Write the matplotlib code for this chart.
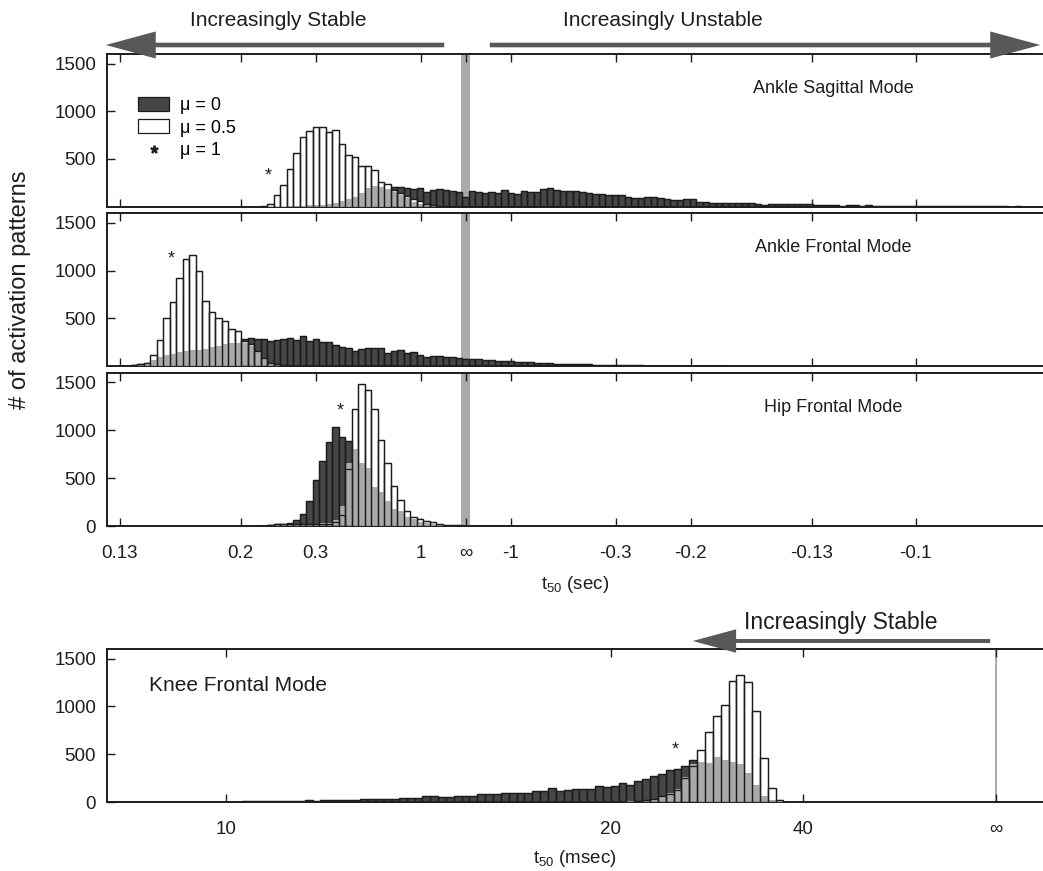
import numpy as np
import matplotlib
matplotlib.use('Agg')
import matplotlib.pyplot as plt
from matplotlib.patches import Patch, FancyArrowPatch
from matplotlib.lines import Line2D

plt.rcParams['font.family'] = ['Liberation Sans', 'DejaVu Sans']
plt.rcParams['mathtext.fontset'] = 'custom'
plt.rcParams['mathtext.rm'] = 'Liberation Sans'
plt.rcParams['mathtext.it'] = 'Liberation Sans:italic'

# ---- top three panels: x is the rate -1/t50 (1/s), bin j starts at U0 + j*BW
U0, BW = -4.409, 0.1444
top_ticks = [0.13, 0.2, 0.3, 1, np.inf, -1, -0.3, -0.2, -0.13, -0.1]
top_labels = ['0.13', '0.2', '0.3', '1', '∞', '-1', '-0.3', '-0.2', '-0.13', '-0.1']

# Ankle Sagittal Mode
sag_mu0_start = 4
sag_mu0 = [3, 5, 10, 15, 25, 35, 50, 65, 85, 105, 125, 150, 170, 185, 195,
           202, 202, 195, 184, 198, 157, 171, 184, 177, 160, 153, 104, 160, 157, 146,
           150, 146, 178, 139, 129, 167, 153, 153, 184, 195,
           174, 164, 160, 160, 157, 139, 132, 132, 125, 122, 118, 104, 90, 90, 101,
           97, 90, 83, 70, 70, 77, 77, 52, 49, 35, 42, 42, 42, 38, 35,
           35, 28, 21, 24, 28, 24, 24, 28, 24, 28, 17, 14, 14, 14, 10,
           14, 14, 10, 14, 10, 10, 10, 7, 10, 7, 7, 7, 7, 10, 7,
           7, 3, 7, 7, 3, 3, 3, 3, 3, 3, 0, 3]
sag_mu05_start = -1
sag_mu05 = [5, 24, 122, 223, 400, 567, 731, 793, 832, 832, 783, 800, 658, 546, 522,
            431, 428, 383, 261, 240, 170, 140, 110, 80, 55, 30, 15, 8, 4, 2]
sag_mu1_start = 3
sag_mu1 = [5, 10, 12, 15, 18, 22, 30, 40, 60, 85, 105, 146, 195, 215, 210,
           190, 157, 122, 87, 52, 30, 17, 10, 5]

# Ankle Frontal Mode
afr_mu0_start = -23
afr_mu0 = [3, 5, 10, 20, 35, 50, 70, 90, 110, 130, 150, 170, 190, 210, 225,
           240, 255, 265, 272,
           278, 289, 285, 278, 258, 275, 285, 296, 268, 317, 258, 278, 250, 250, 223,
           195, 191, 157, 174, 184, 184, 184, 139, 160, 167, 132, 146, 115, 97, 108,
           100, 97, 90, 80, 75, 70, 70, 68, 65, 56, 52, 48, 45, 42, 38,
           35, 30, 28, 25, 22, 21, 20, 18, 16, 14, 12, 11, 10, 9, 8,
           7, 6, 5, 5, 4, 3, 3, 2, 2, 2, 1, 1, 1, 1, 1]
afr_mu05_start = -23
afr_mu05 = [2, 4, 7, 17, 35, 115, 268, 498, 672, 926, 1124, 1166, 995, 686, 571,
            505, 470, 390, 369, 260, 226, 157, 80, 35, 17, 7, 3]
afr_mu1_start = -21
afr_mu1 = [5, 10, 28, 63, 90, 115, 125, 143, 160, 167, 167, 177, 195, 212, 230,
           237, 237, 237, 209, 150, 77, 35, 14, 7, 3]

# Hip Frontal Mode
hip_mu0_start = -2
hip_mu0 = [3, 5, 14, 24, 24, 35, 66, 129, 264, 480, 675, 873, 1030, 926, 884,
           800, 650, 480, 340, 230, 150, 95, 60, 40, 25, 15, 10, 6, 4, 2,
           2, 2, 2, 1, 1, 1, 1, 1]
hip_mu05_start = -2
hip_mu05 = [2, 4, 7, 17, 21, 25, 25, 25, 25, 22, 22, 25, 40, 120, 600,
            1225, 1482, 1420, 1218, 894, 661, 414, 268, 160, 97, 73, 52, 38, 21, 14,
            10, 7, 5, 4, 3, 2, 2, 1]
hip_mu1_start = 0
hip_mu1 = [7, 10, 12, 14, 17, 20, 22, 24, 28, 35, 63, 209, 654, 804, 654,
           605, 411, 351, 261, 174, 157, 94, 73, 45, 31, 21, 14, 8, 5, 3]

# ---- bottom panel: x is -1/t50 (1/ms), bin k starts at V0 + k*BW4
V0, BW4 = -0.03982, 0.00102
knee_ticks = [10, 20, 40, np.inf]
knee_labels = ['10', '20', '40', '∞']
knee_mu0_start = -74
knee_mu0 = [2, 3, 3, 3, 3, 3, 3, 4, 4, 4, 5, 5, 5, 6, 6,
            7, 8, 10, 10, 13, 10, 14, 17, 14, 17, 20, 17, 24, 21, 24,
            24, 28, 31, 31, 31, 38, 38, 42, 48, 42, 62, 70, 57, 59, 66,
            70, 66, 84, 84, 90, 94, 100, 101, 94, 118, 122, 146, 122, 129, 139,
            143, 143, 174, 157, 171, 205, 181, 219, 247, 271, 299, 338, 348, 376, 445,
            420, 350, 250, 160, 90, 45, 20, 8, 3]
knee_mu05_start = -10
knee_mu05 = [3, 5, 8, 15, 22, 35, 65, 90, 130, 250, 380, 543, 731, 905, 1020,
             1263, 1333, 1253, 954, 466, 146, 21]
knee_mu1_start = -10
knee_mu1 = [5, 7, 10, 17, 24, 35, 70, 94, 136, 268, 397, 418, 414, 477, 442,
            425, 400, 310, 181, 66, 24, 5]

# asterisk marks (x in axis rate units, y in counts)
stars = {'sag': (-4.386, 321), 'afr': (-6.54, 1125), 'hip': (-2.787, 1202),
         'knee': (-0.04168, 546)}

DARK = '#464646'
EDGE = '#1c1c1c'
LIGHT = '#a9a9ad'
BAND = '#a9a9ae'
ARROW = '#58585b'
TXT = '#1e1e1e'

W, H = 1043, 871
fig = plt.figure(figsize=(W / 100, H / 100), dpi=100)


def px_axes(left, top, right, bottom):
    return fig.add_axes([left / W, 1 - bottom / H, (right - left) / W, (bottom - top) / H])


def on_grid(start, vals, lo, hi):
    out = np.zeros(hi - lo)
    out[start - lo:start - lo + len(vals)] = vals
    return out


def draw_hist(ax, x0, bw, series):
    lo = min(s for s, _ in series)
    hi = max(s + len(v) for s, v in series)
    left = x0 + bw * np.arange(lo, hi)
    dark, white, grey = [on_grid(s, v, lo, hi) for s, v in series]
    m = dark > 0
    ax.bar(left[m], dark[m], width=bw, align='edge', color=DARK, edgecolor=EDGE, lw=0.9, zorder=2)
    m = white > 0
    ax.bar(left[m], white[m], width=bw, align='edge', color='white', edgecolor=EDGE, lw=0.9, zorder=3)
    m = grey > 0
    ax.bar(left[m], grey[m], width=bw, align='edge', color=LIGHT, lw=0, zorder=4)
    # outlines stay visible through the light fill
    m = white > 0
    ax.bar(left[m], white[m], width=bw, align='edge', fill=False, edgecolor=EDGE, lw=0.9, zorder=5)
    m = dark > white
    ax.bar(left[m], dark[m], width=bw, align='edge', fill=False, edgecolor=EDGE, lw=0.9, zorder=5)


def style(ax):
    ax.spines['right'].set_visible(False)
    for s in ['left', 'top', 'bottom']:
        ax.spines[s].set_linewidth(1.4)
        ax.spines[s].set_color(EDGE)
    ax.tick_params(direction='in', length=6, width=1.0, top=True, right=False,
                   labelsize=13.5, colors=EDGE, labelcolor=TXT)
    ax.tick_params(axis='x', pad=13.5)
    ax.tick_params(axis='y', pad=8)
    ax.set_ylim(0, 1600)


top_pos = -1.0 / np.array(top_ticks)
panels = [
    ('Ankle Sagittal Mode', 54, 206.7,
     [(sag_mu0_start, sag_mu0), (sag_mu05_start, sag_mu05), (sag_mu1_start, sag_mu1)], 'sag'),
    ('Ankle Frontal Mode', 213.3, 366,
     [(afr_mu0_start, afr_mu0), (afr_mu05_start, afr_mu05), (afr_mu1_start, afr_mu1)], 'afr'),
    ('Hip Frontal Mode', 372.7, 526,
     [(hip_mu0_start, hip_mu0), (hip_mu05_start, hip_mu05), (hip_mu1_start, hip_mu1)], 'hip'),
]
axes = []
for i, (title, top, bot, series, key) in enumerate(panels):
    ax = px_axes(107.3, top, W, bot)
    style(ax)
    ax.axvspan(-0.1, 0.1, color=BAND, lw=0, zorder=1)
    draw_hist(ax, U0, BW, series)
    ax.set_xlim(-7.964, 12.83)
    ax.set_xticks(top_pos)
    if i == 2:
        ax.set_xticklabels(top_labels)
        ax.set_yticks([0, 500, 1000, 1500])
    else:
        ax.set_xticklabels([])
        ax.set_yticks([500, 1000, 1500])
    ax.text(0.776, 0.775, title, transform=ax.transAxes, ha='center', va='center',
            fontsize=13, color=TXT)
    sx, sy = stars[key]
    ax.text(sx, sy, '*', ha='center', va='center', fontsize=13, color=TXT, zorder=6)
    axes.append(ax)

axes[2].set_xlabel('t$_{50}$ (sec)', fontsize=13.5, color=TXT, labelpad=9)

axes[0].legend(handles=[Patch(fc=DARK, ec=EDGE, lw=0.9), Patch(fc='white', ec=EDGE, lw=0.9),
                        Line2D([], [], ls='none', marker='$*$', color=TXT, markersize=5)],
               labels=['μ = 0', 'μ = 0.5', 'μ = 1'], loc='upper left',
               bbox_to_anchor=(0.033, 0.72), frameon=False, fontsize=13,
               handlelength=1.7, handleheight=0.8, labelspacing=0.3, handletextpad=0.6,
               borderpad=0, borderaxespad=0)

# knee panel
ax4 = px_axes(107.3, 649, W, 802.3)
style(ax4)
ax4.axvline(0, color='#9c9c9c', lw=1.2, zorder=1)
draw_hist(ax4, V0, BW4, [(knee_mu0_start, knee_mu0), (knee_mu05_start, knee_mu05),
                         (knee_mu1_start, knee_mu1)])
ax4.set_xlim(-0.11545, 0.00615)
ax4.set_xticks(-1.0 / np.array(knee_ticks))
ax4.set_xticklabels(knee_labels)
ax4.set_yticks([0, 500, 1000, 1500])
ax4.set_xlabel('t$_{50}$ (msec)', fontsize=13.5, color=TXT, labelpad=7)
ax4.text(0.045, 0.759, 'Knee Frontal Mode', transform=ax4.transAxes, ha='left', va='center',
         fontsize=15, color=TXT)
sx, sy = stars['knee']
ax4.text(sx, sy, '*', ha='center', va='center', fontsize=13, color=TXT, zorder=6)

fig.text(20 / W, 1 - 290 / H, '# of activation patterns', rotation=90, ha='center',
         va='center', fontsize=17, color=TXT)


def arrow(x_from, x_to, y, scale):
    fig.patches.append(FancyArrowPatch(
        (x_from / W, 1 - y / H), (x_to / W, 1 - y / H), transform=fig.transFigure,
        arrowstyle='simple,head_length=1.2,head_width=0.65,tail_width=0.11',
        mutation_scale=scale, color=ARROW, lw=0))


arrow(447, 103, 45, 30)
arrow(487, 1043, 45, 30)
arrow(993, 690, 641, 26)
fig.text(278 / W, 1 - 20 / H, 'Increasingly Stable', ha='center', va='center', fontsize=15, color=TXT)
fig.text(663 / W, 1 - 20 / H, 'Increasingly Unstable', ha='center', va='center', fontsize=15, color=TXT)
fig.text(841 / W, 1 - 622 / H, 'Increasingly Stable', ha='center', va='center', fontsize=16.5, color=TXT)

fig.savefig('out.png', dpi=100)
